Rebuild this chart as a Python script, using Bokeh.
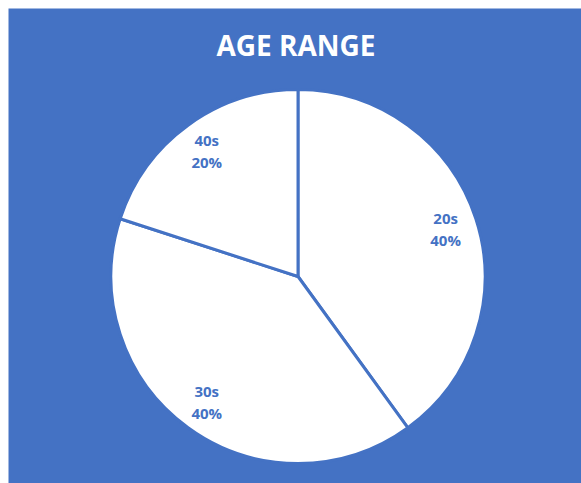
import math
from bokeh.plotting import figure
from bokeh.models import Range1d, ColumnDataSource
from bokeh.core.properties import value
from bokeh.embed import file_html
from bokeh.resources import INLINE

title_text = "AGE RANGE"
categories = ["20s", "30s", "40s"]
shares = [40, 40, 20]

BLUE = "#4472C4"
W, H = 573, 475
cx, cy = 289.5, 207.0
R = 187.0

p = figure(width=W + 8, height=H + 8, output_backend="svg", toolbar_location=None,
           x_range=Range1d(0, W), y_range=Range1d(0, H),
           min_border_left=8, min_border_top=8, min_border_right=0, min_border_bottom=0)
p.axis.visible = False
p.grid.visible = False
p.outline_line_color = None
p.background_fill_color = BLUE
p.border_fill_color = "white"

total = sum(shares)
starts, ends, lx, ly, l1, l2 = [], [], [], [], [], []
ang = 90.0
for c, s in zip(categories, shares):
    sweep = 360.0 * s / total
    a0 = ang
    a1 = ang - sweep
    starts.append(math.radians(a0))
    ends.append(math.radians(a1))
    mid = math.radians((a0 + a1) / 2)
    lx.append(cx + 0.83 * R * math.cos(mid))
    ly.append(cy + 0.83 * R * math.sin(mid))
    l1.append(c)
    l2.append(f"{s}%")
    ang = a1

src = ColumnDataSource(dict(start=starts, end=ends, x=[cx] * 3, y=[cy] * 3))
p.wedge(x="x", y="y", radius=R, start_angle="start", end_angle="end",
        direction="clock", fill_color="white", line_color=BLUE, line_width=3,
        source=src)

lab = ColumnDataSource(dict(x=lx, y1=[v + 11 for v in ly], y2=[v - 11 for v in ly], t1=l1, t2=l2))
for ycol, tcol in (("y1", "t1"), ("y2", "t2")):
    p.text(x="x", y=ycol, text=tcol, source=lab, text_align="center",
           text_baseline="middle", text_color=BLUE, text_font=value("Open Sans"),
           text_font_style="bold", text_font_size="15px")

p.text(x=[W / 2 + 1], y=[439], text=[title_text], text_align="center",
       text_baseline="middle", text_color="white", text_font=value("Open Sans"),
       text_font_style="bold", text_font_size="28px")

open("out.html", "w").write(file_html(p, INLINE))
